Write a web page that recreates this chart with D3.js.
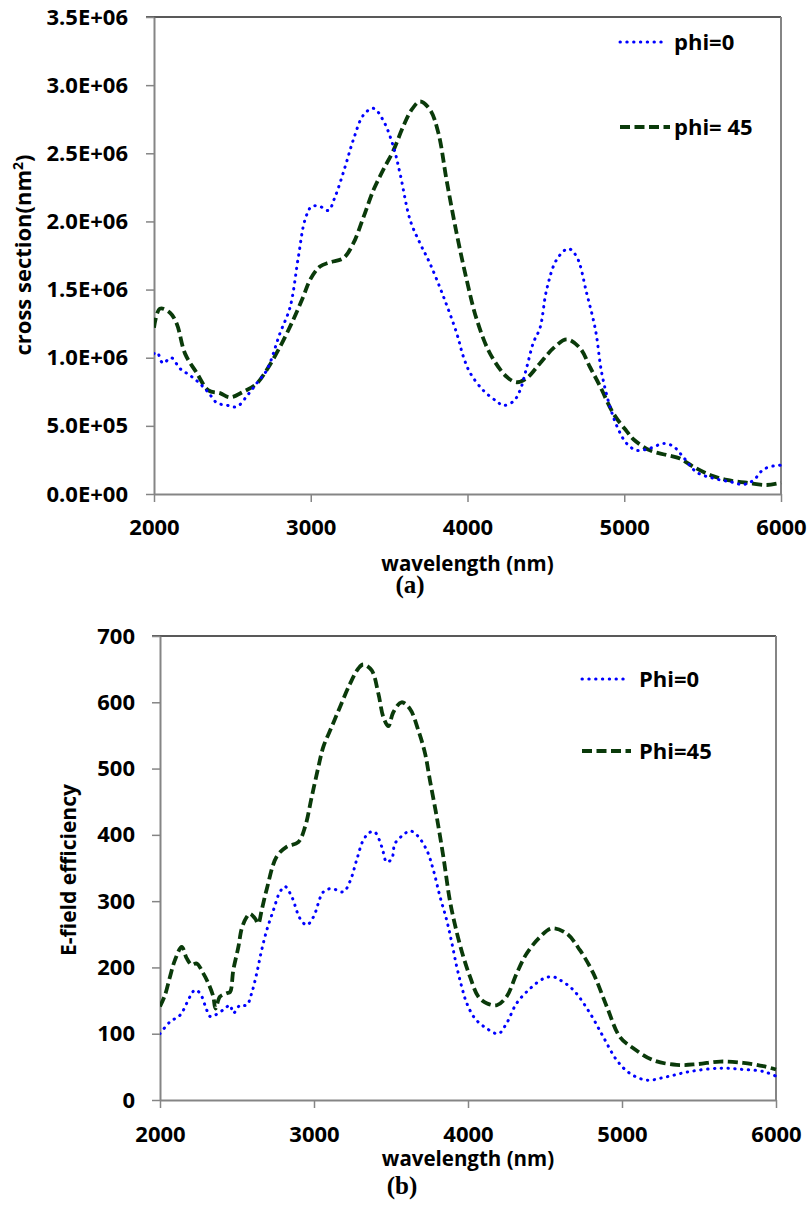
<!DOCTYPE html>
<html>
<head>
<meta charset="utf-8">
<script src="https://cdn.jsdelivr.net/npm/d3@7"></script>
<style>
body { margin: 0; background: #fff; }
svg { display: block; }
</style>
</head>
<body>
<script>
// (a) cross section, values in units of 1E+06 nm^2
const crossPhi0 = [
  [2000,1.03],[2020,1.04],[2057,0.96],[2110,1.0],[2166,0.92],[2230,0.87],[2293,0.81],[2350,0.74],
  [2400,0.67],[2470,0.65],[2528,0.64],[2600,0.73],[2660,0.82],[2720,0.91],[2804,1.18],[2868,1.37],
  [2921,1.74],[2963,2.01],[3006,2.11],[3059,2.11],[3112,2.08],[3155,2.18],[3219,2.40],[3272,2.60],
  [3336,2.78],[3400,2.83],[3463,2.74],[3527,2.55],[3570,2.35],[3634,2.01],[3697,1.84],[3761,1.69],
  [3846,1.45],[3931,1.18],[3973,1.01],[4016,0.89],[4101,0.76],[4186,0.68],[4229,0.65],[4293,0.68],
  [4335,0.76],[4378,0.93],[4420,1.11],[4463,1.22],[4505,1.50],[4569,1.72],[4643,1.80],[4697,1.74],
  [4761,1.47],[4817,1.20],[4856,0.89],[4909,0.64],[4960,0.48],[5016,0.37],[5080,0.32],[5164,0.335],
  [5249,0.37],[5313,0.35],[5377,0.27],[5462,0.16],[5569,0.115],[5675,0.09],[5760,0.07],[5824,0.10],
  [5888,0.18],[5973,0.21],[6000,0.21]
]
const crossPhi45 = [
  [2000,1.22],[2038,1.36],[2102,1.33],[2145,1.25],[2198,1.03],[2272,0.89],[2347,0.76],[2421,0.74],
  [2485,0.71],[2570,0.75],[2655,0.81],[2719,0.91],[2804,1.08],[2889,1.28],[2953,1.45],[2995,1.57],
  [3059,1.67],[3123,1.70],[3208,1.73],[3272,1.84],[3336,2.03],[3400,2.23],[3463,2.38],[3527,2.52],
  [3591,2.70],[3644,2.82],[3697,2.88],[3761,2.82],[3814,2.65],[3867,2.30],[3931,1.91],[3995,1.57],
  [4059,1.28],[4144,1.03],[4250,0.86],[4314,0.82],[4378,0.85],[4463,0.96],[4548,1.07],[4633,1.135],
  [4718,1.07],[4782,0.93],[4846,0.79],[4931,0.59],[5016,0.46],[5060,0.40],[5164,0.32],[5271,0.286],
  [5356,0.26],[5441,0.20],[5547,0.14],[5654,0.103],[5781,0.083],[5909,0.066],[6000,0.083]
]

// (b) E-field efficiency
const efieldPhi0 = [
  [2000,100],[2065,118],[2130,128],[2195,156],[2227,166],[2260,161],[2303,136],[2325,126],
  [2357,128],[2411,136],[2455,143],[2476,131],[2520,143],[2563,143],[2595,161],[2628,191],
  [2660,226],[2693,256],[2736,286],[2779,314],[2812,322],[2855,307],[2909,274],[2953,264],
  [2996,276],[3061,314],[3115,319],[3190,314],[3234,330],[3277,362],[3320,392],[3364,404],
  [3396,404],[3440,382],[3472,359],[3505,364],[3526,387],[3580,400],[3623,406],[3667,400],
  [3732,377],[3775,347],[3818,307],[3862,271],[3894,238],[3927,201],[3959,171],[3992,146],
  [4045,123],[4121,108],[4197,100],[4251,116],[4316,146],[4403,168],[4489,183],[4550,186],
  [4598,181],[4684,166],[4792,131],[4879,95],[4966,60],[5052,40],[5161,30],[5290,35],
  [5442,43],[5637,48],[5788,46],[5918,43],[6000,36]
]
const efieldPhi45 = [
  [2000,141],[2032,158],[2065,186],[2097,211],[2141,231],[2173,214],[2206,204],[2238,206],
  [2281,191],[2314,176],[2346,156],[2360,138],[2390,156],[2433,161],[2455,163],[2476,196],
  [2509,231],[2531,259],[2563,276],[2584,281],[2617,274],[2638,266],[2660,286],[2693,318],
  [2757,367],[2822,382],[2898,389],[2942,412],[2985,457],[3028,502],[3061,533],[3115,563],
  [3169,593],[3234,628],[3288,651],[3320,657],[3375,648],[3418,613],[3450,578],[3483,564],
  [3515,585],[3569,600],[3623,590],[3677,558],[3721,523],[3753,482],[3797,427],[3840,367],
  [3883,300],[3927,253],[3970,216],[4013,186],[4067,156],[4121,146],[4187,143],[4251,156],
  [4316,191],[4381,221],[4468,246],[4544,259],[4641,251],[4727,226],[4814,191],[4901,141],
  [4987,95],[5074,78],[5203,60],[5355,53],[5485,54],[5637,58],[5788,56],[5918,51],[6000,46]
]

const xTicks = [2000, 3000, 4000, 5000, 6000]
const crossTicks = [0, 0.5, 1, 1.5, 2, 2.5, 3, 3.5]
const efieldTicks = [0, 100, 200, 300, 400, 500, 600, 700]
const crossLegend = ['phi=0', 'phi= 45']
const efieldLegend = ['Phi=0', 'Phi=45']

const width = 809
const height = 1207
const font = '"Open Sans", sans-serif'
const blue = '#0000ff'
const green = '#0a3a0a'
const axisGrey = '#858585'

// 1.0 -> "1.0E+06"
const sci = (v) => {
    if (v === 0) return '0.0E+00'
    let [m, e] = (v * 1e6).toExponential(1).split('e')
    let n = Math.abs(+e)
    return m + 'E' + (+e < 0 ? '-' : '+') + (n < 10 ? '0' + n : n)
}

const panels = [
    {left: 154, right: 781, top: 17, bottom: 494, yTicks: crossTicks, fmt: sci,
     series: [crossPhi0, crossPhi45], legend: crossLegend,
     legendX: 620, legendY: [42, 127], legendLen: [43, 50], textX: 674,
     yPad: 18, xLabelY: 41, title: 'cross section(nm', sup: '2', titleX: 31, titleY: 255,
     titleSize: 22, xTitleY: 571, caption: '(a)', capX: 410, capY: 593},
    {left: 160, right: 776, top: 636, bottom: 1100, yTicks: efieldTicks, fmt: d3.format('d'),
     series: [efieldPhi0, efieldPhi45], legend: efieldLegend,
     legendX: 582, legendY: [679, 751], legendLen: [42, 49], textX: 639,
     yPad: 17, xLabelY: 42, title: 'E-field efficiency', sup: null, titleX: 76, titleY: 870,
     titleSize: 21, xTitleY: 1166, caption: '(b)', capX: 402, capY: 1194}
]

const svg = d3.select('body')
    .append('svg')
    .attr('width', width)
    .attr('height', height)
    .style('background', '#fff')

const styles = [
    {color: blue, width: 3, dash: '0.4,6.4', cap: 'round'},
    {color: green, width: 3.8, dash: '10,4.5', cap: 'butt'}
]

panels.forEach((p, pi) => {
    const g = svg.append('g')

    const x = d3.scaleLinear().domain([2000, 6000]).range([p.left, p.right])
    const y = d3.scaleLinear().domain([0, d3.max(p.yTicks)]).range([p.bottom, p.top])

    // frame: black top line, grey right line
    g.append('line')
        .attr('x1', p.left - 8).attr('x2', p.right)
        .attr('y1', p.top).attr('y2', p.top)
        .attr('stroke', '#222').attr('stroke-width', 1.3)
    g.append('line')
        .attr('x1', p.right).attr('x2', p.right)
        .attr('y1', p.top).attr('y2', p.bottom)
        .attr('stroke', axisGrey).attr('stroke-width', 2)

    const yAxis = g.append('g')
        .attr('transform', `translate(${p.left},0)`)
        .call(d3.axisLeft(y).tickValues(p.yTicks).tickFormat(p.fmt)
            .tickSize(8).tickSizeOuter(0).tickPadding(p.yPad))

    const xAxis = g.append('g')
        .attr('transform', `translate(0,${p.bottom})`)
        .call(d3.axisBottom(x).tickValues(xTicks).tickFormat(d3.format('d'))
            .tickSize(8).tickSizeOuter(0))

    xAxis.selectAll('text').attr('y', p.xLabelY).attr('dy', 0)

    ;[yAxis, xAxis].forEach(a => {
        a.select('.domain').attr('stroke', axisGrey).attr('stroke-width', 2)
        a.selectAll('line').attr('stroke', axisGrey).attr('stroke-width', 1.5)
        a.selectAll('text')
            .attr('fill', '#000')
            .style('font-family', font)
            .style('font-weight', 700)
            .style('font-size', '22px')
    })

    // curves
    const clipId = 'clip' + pi
    g.append('clipPath').attr('id', clipId)
        .append('rect')
        .attr('x', p.left).attr('y', p.top - 4)
        .attr('width', p.right - p.left + 4).attr('height', p.bottom - p.top + 4)

    const line = d3.line()
        .x(d => x(d[0]))
        .y(d => y(d[1]))
        .curve(d3.curveCatmullRom.alpha(0.5))

    // green first so the dotted blue sits on top
    ;[1, 0].forEach(si => {
        const s = styles[si]
        g.append('path')
            .datum(p.series[si])
            .attr('clip-path', `url(#${clipId})`)
            .attr('d', line)
            .attr('fill', 'none')
            .attr('stroke', s.color)
            .attr('stroke-width', s.width)
            .attr('stroke-dasharray', s.dash)
            .attr('stroke-linecap', s.cap)
    })

    // legend
    p.legend.forEach((name, i) => {
        const s = styles[i]
        g.append('line')
            .attr('x1', p.legendX).attr('x2', p.legendX + p.legendLen[i])
            .attr('y1', p.legendY[i]).attr('y2', p.legendY[i])
            .attr('stroke', s.color)
            .attr('stroke-width', s.width)
            .attr('stroke-dasharray', s.dash)
            .attr('stroke-linecap', s.cap)
        g.append('text')
            .attr('x', p.textX).attr('y', p.legendY[i] + 8)
            .style('font-family', font).style('font-weight', 700).style('font-size', '22px')
            .text(name)
    })

    // axis titles
    const yt = g.append('text')
        .attr('transform', `translate(${p.titleX},${p.titleY}) rotate(-90)`)
        .attr('text-anchor', 'middle')
        .style('font-family', font).style('font-weight', 700).style('font-size', p.titleSize + 'px')
        .text(p.title)
    if (p.sup) {
        yt.append('tspan').attr('dy', -8).style('font-size', '14px').text(p.sup)
        yt.append('tspan').attr('dy', 8).text(')')
    }

    g.append('text')
        .attr('x', (p.left + p.right) / 2).attr('y', p.xTitleY)
        .attr('text-anchor', 'middle')
        .style('font-family', font).style('font-weight', 700).style('font-size', '20.5px')
        .text('wavelength (nm)')

    g.append('text')
        .attr('x', p.capX).attr('y', p.capY)
        .attr('text-anchor', 'middle')
        .style('font-family', '"Liberation Serif", "Times New Roman", serif')
        .style('font-weight', 700).style('font-size', '25px')
        .text(p.caption)
})
</script>
</body>
</html>
